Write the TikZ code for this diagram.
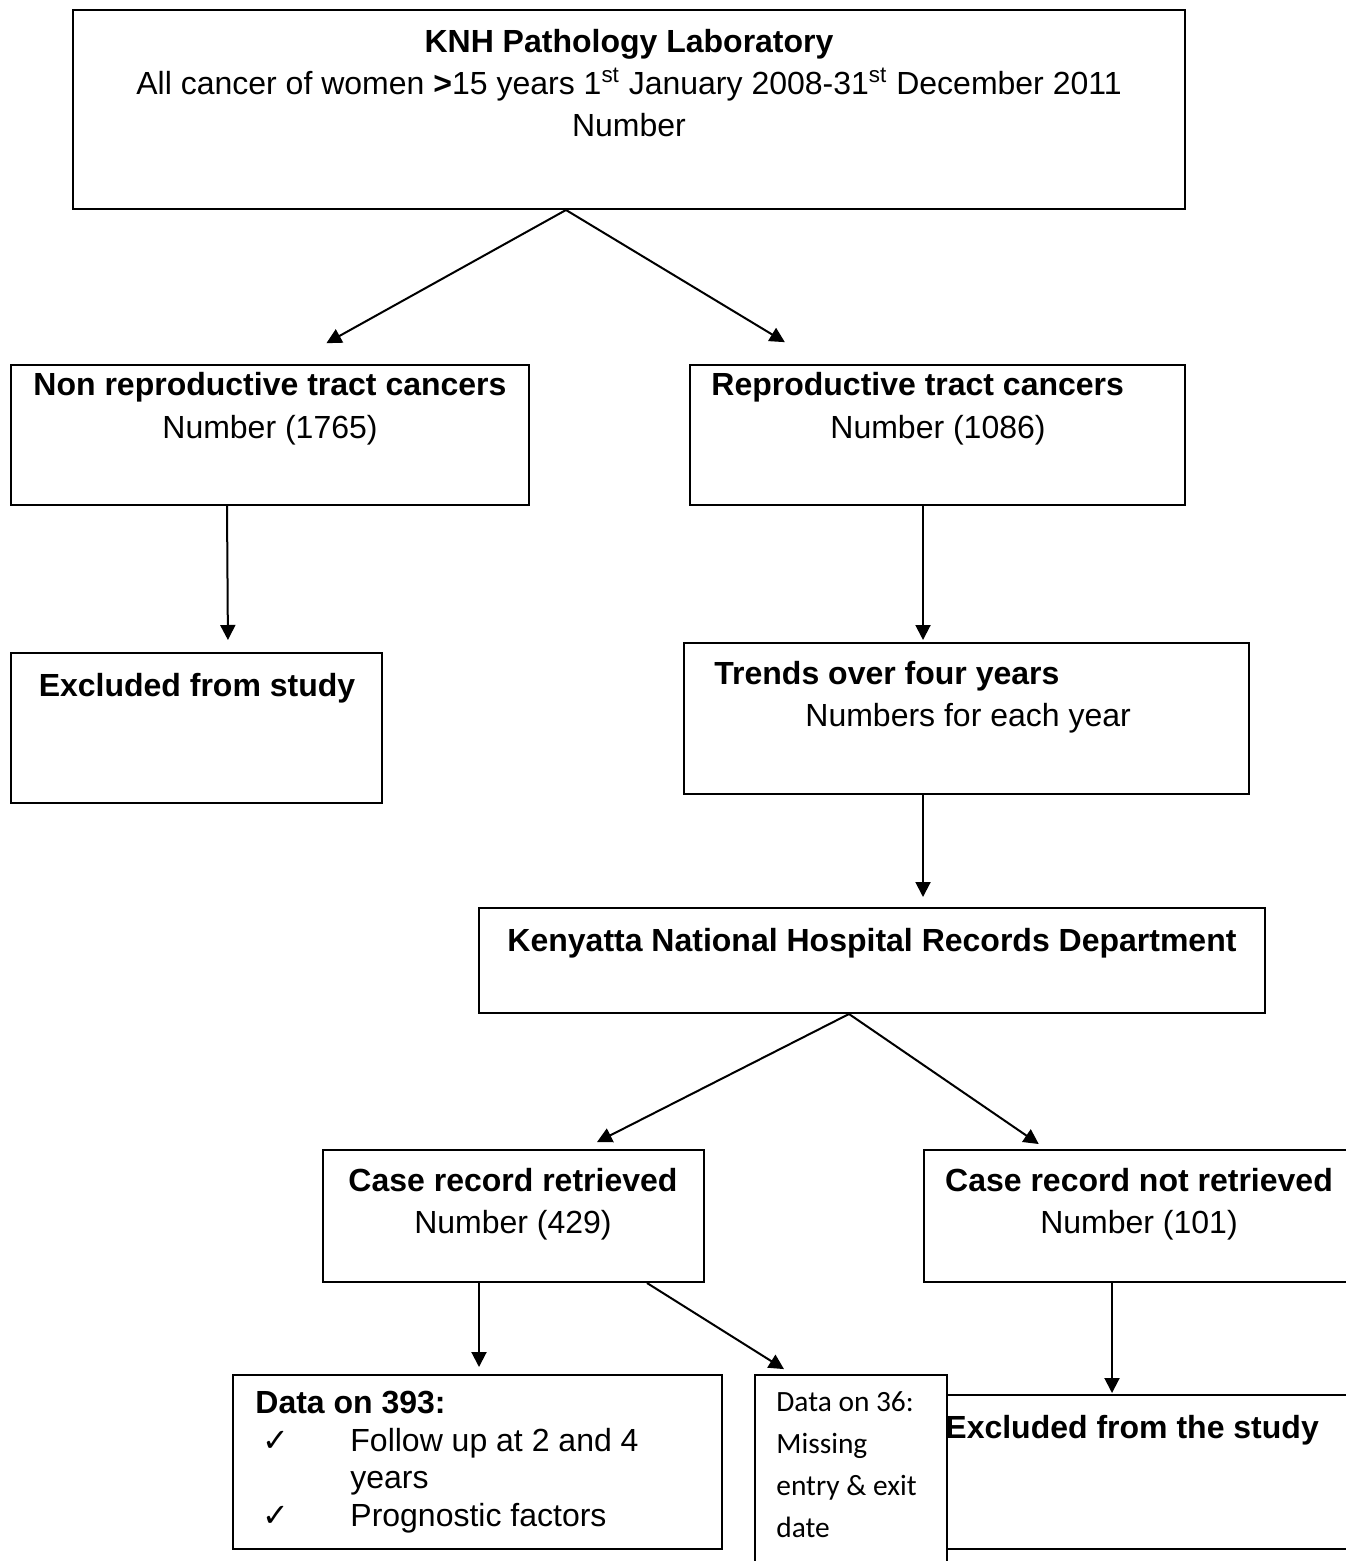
\documentclass[tikz,border=0pt]{standalone}
\usepackage{fontspec}
\setmainfont{Liberation Sans}
\newfontfamily\carlito{Carlito}
\newfontfamily\dejavu{DejaVu Sans}
\usepackage{tikz}
\usetikzlibrary{positioning,fit,calc,arrows.meta}

\newcommand{\tick}{\makebox[44pt][l]{\dejavu\fontsize{16}{18.75}\selectfont ✓}}

\begin{document}
\begin{tikzpicture}[x=0.5pt, y=-0.5pt,
		box/.style={draw, line width=1pt, inner sep=0pt},
		txt/.style={inner sep=0pt, align=center, anchor=base, font=\fontsize{16}{21}\selectfont},
		arr/.style={line width=1pt, -{Triangle[length=7.5pt,width=7.5pt]}}]

				\useasboundingbox (0,0) rectangle (1345,1561);

				% boxes
				\node[box, fit={(73,10) (1185,209)}]     (lab)     {};
				\node[box, fit={(11,365) (529,505)}]     (nonrep)  {};
				\node[box, fit={(690,365) (1185,505)}]   (rep)     {};
				\node[box, fit={(11,653) (382,803)}]     (excl)    {};
				\node[box, fit={(684,643) (1249,794)}]   (trends)  {};
				\node[box, fit={(479,908) (1265,1013)}]  (records) {};
				\node[box, fit={(323,1150) (704,1282)}]  (retr)    {};
				\node[box, fit={(924,1150) (1365,1282)}] (notretr) {};
				\node[box, fit={(233,1375) (722,1549)}]  (data)    {};
				\node[box, fit={(947,1395) (1365,1549)}] (exclb)   {};
				\node[box, fit={(755,1375) (947,1580)}]  (miss)    {};

				% texts (anchored on the baseline of the last line)
				\node[txt] at (629,137) {\textbf{KNH Pathology Laboratory}\\
					All cancer of women \textbf{>}15 years 1\textsuperscript{st} January 2008-31\textsuperscript{st} December 2011\\
					Number};
				\node[txt] at (270,438) {\textbf{Non reproductive tract cancers}\\Number (1765)};
				\node[txt, align=left, anchor=base west] at (711,438) {\textbf{Reproductive tract cancers}\\\hspace*{59.5pt}Number (1086)};
				\node[txt] at (197,696) {\textbf{Excluded from study}};
				\node[txt, align=left, anchor=base west] at (714,726) {\textbf{Trends over four years}\\\hspace*{45.5pt}Numbers for each year};
				\node[txt] at (872,951) {\textbf{Kenyatta National Hospital Records Department}};
				\node[txt] at (513,1233) {\textbf{Case record retrieved}\\Number (429)};
				\node[txt] at (1139,1233) {\textbf{Case record not retrieved}\\Number (101)};
				\node[txt, align=left, anchor=base west, font=\fontsize{16}{18.75}\selectfont] at (255,1526) {\textbf{Data on 393:}\\
					\hspace*{3.5pt}\tick Follow up at 2 and 4\\
					\hspace*{47.5pt}years\\
					\hspace*{3.5pt}\tick Prognostic factors};
				\node[txt, align=left, anchor=base west, font=\carlito\fontsize{14.7}{21}\selectfont] at (776,1537) {Data on 36:\\Missing\\entry \& exit\\date};
				\node[txt, anchor=base west] at (945,1438) {\textbf{Excluded from the study}};

				% arrows
				\draw[arr, shorten >=21.4pt] ($(lab.south west)+(494,0)$) -- ($(nonrep.north west)+(279,0)$);
				\draw[arr, shorten >=21.1pt] ($(lab.south west)+(494,0)$) -- ($(rep.north west)+(132,0)$);
				\draw[arr, shorten >=6pt]    ($(nonrep.south west)+(217,0)$) -- ($(excl.north west)+(218,0)$);
				\draw[arr, shorten >=1pt]    ($(rep.south west)+(234,0)$) -- ($(trends.north west)+(240,0)$);
				\draw[arr, shorten >=5pt]    ($(trends.south west)+(240,0)$) -- ($(records.north west)+(445,0)$);
				\draw[arr, shorten >=7.6pt]  ($(records.south west)+(371,0)$) -- ($(retr.north west)+(261.4,0)$);
				\draw[arr, shorten >=4.4pt]  ($(records.south west)+(371,0)$) -- ($(notretr.north west)+(123,0)$);
				\draw[arr, shorten >=3.5pt]  ($(retr.south west)+(157,0)$) -- ($(data.north west)+(247,0)$);
				\draw[arr, shorten >=4.6pt]  ($(retr.south west)+(325,0)$) -- ($(miss.north west)+(37.8,0)$);
				\draw[arr, shorten >=0.5pt]  ($(notretr.south west)+(189,0)$) -- ($(exclb.north west)+(166,0)$);

			\end{tikzpicture}
\end{document}
